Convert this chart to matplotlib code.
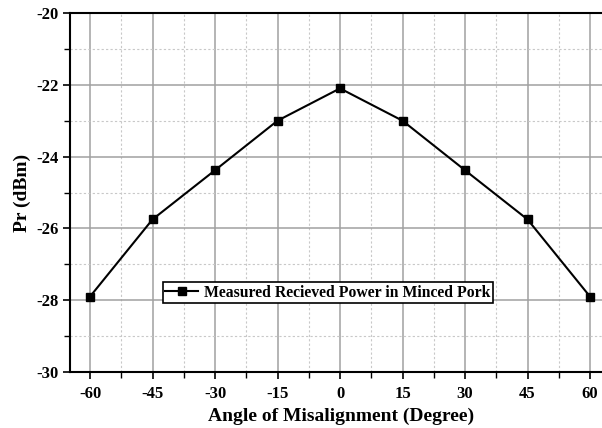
import matplotlib
matplotlib.use("Agg")
import matplotlib.pyplot as plt
from matplotlib.ticker import MultipleLocator

angles = [-60, -45, -30, -15, 0, 15, 30, 45, 60]
power = [-27.9, -25.75, -24.38, -23.0, -22.1, -23.0, -24.38, -25.75, -27.9]
x_ticks = [-60, -45, -30, -15, 0, 15, 30, 45, 60]
y_ticks = [-30, -28, -26, -24, -22, -20]

plt.rcParams["font.family"] = ["Liberation Serif", "DejaVu Serif"]
plt.rcParams["font.weight"] = "bold"
plt.rcParams["axes.unicode_minus"] = False

fig = plt.figure(figsize=(6.02, 4.28), dpi=100)
ax = fig.add_axes([70 / 602, 56 / 428, 541.7 / 602, 359 / 428])

ax.plot(angles, power, color="black", lw=1.5, marker="s", markersize=6,
        label="Measured Recieved Power in Minced Pork", zorder=3)

ax.set_xlim(-64.8, 65.2)
ax.set_ylim(-30, -20)
ax.set_xticks(x_ticks)
ax.set_yticks(y_ticks)
ax.xaxis.set_minor_locator(MultipleLocator(7.5))
ax.yaxis.set_minor_locator(MultipleLocator(1))

ax.grid(which="major", color="#a0a0a0", lw=1.1, ls="-", zorder=0)
ax.grid(which="minor", color="#c8c8c8", lw=0.8, ls=(0, (2, 2)), zorder=0)
ax.set_axisbelow(True)

ax.tick_params(which="major", direction="out", length=5, width=1.2,
               labelsize=12, pad=5)
ax.tick_params(axis="y", which="major", pad=3)
ax.tick_params(which="minor", direction="out", length=4, width=1.0)
for lbl in ax.get_xticklabels() + ax.get_yticklabels():
    lbl.set_fontweight("bold")

for s in ax.spines.values():
    s.set_linewidth(1.5)

ax.set_xlabel("Angle of Misalignment (Degree)", fontsize=14, fontweight="bold", labelpad=4)
ax.set_ylabel("Pr (dBm)", fontsize=14, fontweight="bold", labelpad=4)

leg = ax.legend(loc="center", bbox_to_anchor=(0.476, 0.221), fontsize=11.3,
                frameon=True, fancybox=False, framealpha=1, edgecolor="black",
                borderpad=0.15, handlelength=2.1, handletextpad=0.35, borderaxespad=0)
leg.get_frame().set_linewidth(1.2)
for t in leg.get_texts():
    t.set_fontweight("bold")

fig.savefig("out.png", dpi=100)
